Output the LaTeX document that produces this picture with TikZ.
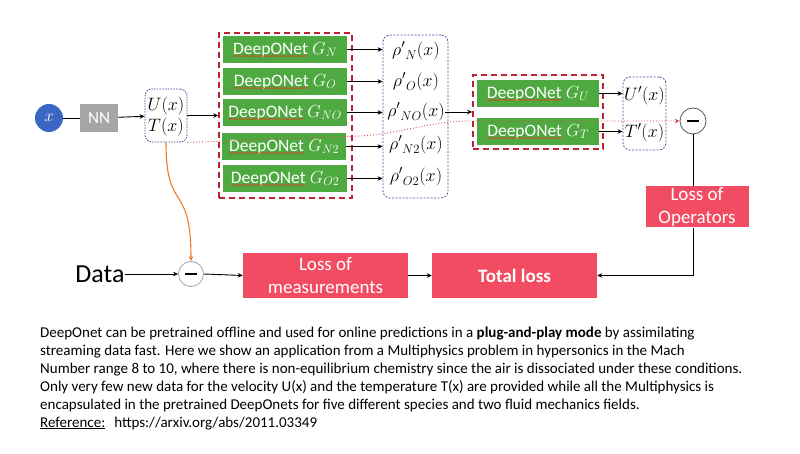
\RequirePackage{fix-cm}
\documentclass[tikz,border=0pt]{standalone}
\usepackage[no-math]{fontspec}
\setmainfont{Carlito}
\usetikzlibrary{arrows.meta,decorations.pathmorphing,calc}
\definecolor{dgreen}{RGB}{78,170,64}
\definecolor{lossred}{RGB}{242,76,98}
\definecolor{dred}{RGB}{188,34,48}
\definecolor{dblue}{RGB}{72,82,165}
\definecolor{xblue}{RGB}{59,102,196}
\definecolor{nngray}{RGB}{166,166,166}
\definecolor{dotred}{RGB}{222,70,70}
\definecolor{orng}{RGB}{237,125,49}
\definecolor{squigc}{RGB}{204,80,36}
\definecolor{circgray}{RGB}{110,128,150}
\newcommand\squig[1]{\tikz[baseline=(sq.base)]{\node[inner sep=0pt,outer sep=0pt,minimum width=0pt,minimum height=0pt,fill=none,draw=none,text=white] (sq) {#1};\draw[squigc,line width=0.7pt,decorate,decoration={snake,amplitude=0.5pt,segment length=2.6pt}] ([yshift=-2pt]sq.base west) -- ([yshift=-2pt]sq.base east);}}
\newcommand\dnet[1]{\squig{DeepONet} $#1$}
\begin{document}
\begin{tikzpicture}[x=1pt,y=-1pt,>={Stealth[length=5pt,width=4.5pt]},
  greenbox/.style={fill=dgreen,minimum width=124pt,minimum height=26.5pt,inner sep=0pt,text=white,font=\fontsize{17.5}{20}\selectfont},
  lossbox/.style={fill=lossred,text=white,inner sep=0pt,align=center,font=\fontsize{19}{23}\selectfont},
  reddash/.style={draw=dred,line width=1.6pt,dash pattern=on 6pt off 4pt,inner sep=0pt},
  bluebox/.style={draw=dblue,line width=0.8pt,dash pattern=on 2pt off 1.5pt,rounded corners=7pt,inner sep=0pt},
  mathtext/.style={inner sep=0pt,font=\fontsize{18}{21}\selectfont},
  conn/.style={draw=black,line width=0.9pt},
  minuscirc/.style={circle,draw=#1,line width=0.8pt,fill=white,minimum size=26pt,inner sep=0pt},
  minusbar/.style={line width=2.2pt,black},
  para/.style={anchor=base west,inner sep=0pt,font=\fontsize{15}{18}\selectfont}]
\useasboundingbox (0,0) rectangle (800,454);
\fill[white] (0,0) rectangle (800,454);

% input chain
\node[circle,fill=xblue,minimum size=28pt,inner sep=0pt,text=white,font=\fontsize{17}{20}\selectfont] (xin) at (49,118) {$x$};
\node[fill=nngray,minimum width=38pt,minimum height=28pt,inner sep=0pt,text=white,font=\fontsize{17}{20}\selectfont] (nn) at (99,118) {NN};
\node[bluebox,draw=dblue!80!violet,dash pattern=on 1.5pt off 1.2pt,minimum width=42pt,minimum height=53pt] (ut) at (166,115.5) {};
\node[mathtext] (u) at (166,106) {$U(x)$};
\node[mathtext] (t) at (166,127) {$T(x)$};

% first DeepONet group
\node[reddash,minimum width=133pt,minimum height=165pt] (rb1) at (285.5,115.5) {};
\node[greenbox] (gN) at (285,49.5) {\dnet{G_N}};
\node[greenbox] (gO) at (285,81.5) {\dnet{G_O}};
\node[greenbox] (gNO) at (285,112.5) {\dnet{G_{NO}}};
\node[greenbox] (gN2) at (284,146.5) {\dnet{G_{N2}}};
\node[greenbox] (gO2) at (285,178.5) {\dnet{G_{O2}}};

% rho box
\node[bluebox,minimum width=65pt,minimum height=163pt] (rbox) at (415.5,116.5) {};
\node[mathtext] (rN) at (416,51) {${\rho'}_{N}(x)$};
\node[mathtext] (rO) at (416,82) {${\rho'}_{O}(x)$};
\node[mathtext] (rNO) at (416,112) {${\rho'}_{NO}(x)$};
\node[mathtext] (rN2) at (416,145) {${\rho'}_{N2}(x)$};
\node[mathtext] (rO2) at (416,177) {${\rho'}_{O2}(x)$};

% second DeepONet group
\node[reddash,minimum width=130pt,minimum height=74pt] (rb2) at (538,112) {};
\node[greenbox,minimum width=122pt] (gU) at (538,93.5) {\dnet{G_U}};
\node[greenbox,minimum width=122pt] (gT) at (538,131.5) {\dnet{G_T}};
\node[bluebox,minimum width=43pt,minimum height=73pt] (upbox) at (644.5,113.5) {};
\node[mathtext] (up) at (644.5,96) {$U'(x)$};
\node[mathtext] (tp) at (644.5,133) {$T'(x)$};

% minus circles
\node[minuscirc=circgray!70!black] (m1) at (693,121) {};
\draw[minusbar] ($(m1.center)+(-6,0)$) -- ($(m1.center)+(6,0)$);
\node[minuscirc=circgray!70,minimum size=25pt] (m2) at (191,274) {};
\draw[minusbar] ($(m2.center)+(-6,0)$) -- ($(m2.center)+(6,0)$);

% loss boxes
\node[lossbox,minimum width=103pt,minimum height=41pt] (lop) at (697,207) {Loss of\\Operators};
\node[lossbox,minimum width=165pt,minimum height=45pt] (lm) at (325.5,275.5) {Loss of\\measurements};
\node[lossbox,minimum width=165pt,minimum height=45pt,font=\fontsize{19}{23}\selectfont\bfseries] (tot) at (514.5,275.5) {Total loss};

\node[inner sep=0pt,font=\fontsize{26}{30}\selectfont] (data) at (100,274) {Data};

% connectors
\draw[conn] (xin) -- (nn);
\draw[conn,->] (nn) -- (ut);
\draw[conn,->] (ut.east) -- (ut.east -| rb1.west);
\foreach \g in {gN,gO,gNO,gN2,gO2}{
  \draw[conn,->] (\g.east) -- (\g.east -| rbox.west);
}
\draw[conn,->] (rNO.east) -- (rNO.east -| rb2.west);
\draw[conn,->] (gU.east) -- (gU.east -| upbox.west);
\draw[conn,->] (gT.east) -- (gT.east -| upbox.west);
\draw[dotred,line width=0.9pt,dotted,->] (ut.south east) -- (360,136) .. controls (400,134) and (430,121) .. (470,121) -- (m1.west);
\draw[conn] (m1.south) -- (m1.south |- lop.north);
\draw[conn,->] (m1.south |- lop.south) |- (tot.east);
\draw[conn,->] (data.east) -- (m2.west);
\draw[conn,->] (m2.east) -- (lm.west);
\draw[conn,->] (lm.east) -- (tot.west);
\draw[orng,line width=1.1pt,->] (ut.south) .. controls (166,215) and (191,180) .. (m2.north);

% caption
\node[para] (p1) at (40,337) {DeepOnet can be pretrained offline and used for online predictions in a \textbf{plug-and-play mode} by assimilating};
\node[para] (p2) at (40,355) {streaming data fast. Here we show an application from a Multiphysics problem in hypersonics in the Mach};
\node[para] (p3) at (40,373) {Number range 8 to 10, where there is non-equilibrium chemistry since the air is dissociated under these conditions.};
\node[para] (p4) at (40,391) {Only very few new data for the velocity U(x) and the temperature T(x) are provided while all the Multiphysics is};
\node[para] (p5) at (40,409) {encapsulated in the pretrained DeepOnets for five different species and two fluid mechanics fields.};
\node[para] (p6) at (40,427) {\underline{Reference:}\hspace{9pt}https://arxiv.org/abs/2011.03349};
\end{tikzpicture}
\end{document}
